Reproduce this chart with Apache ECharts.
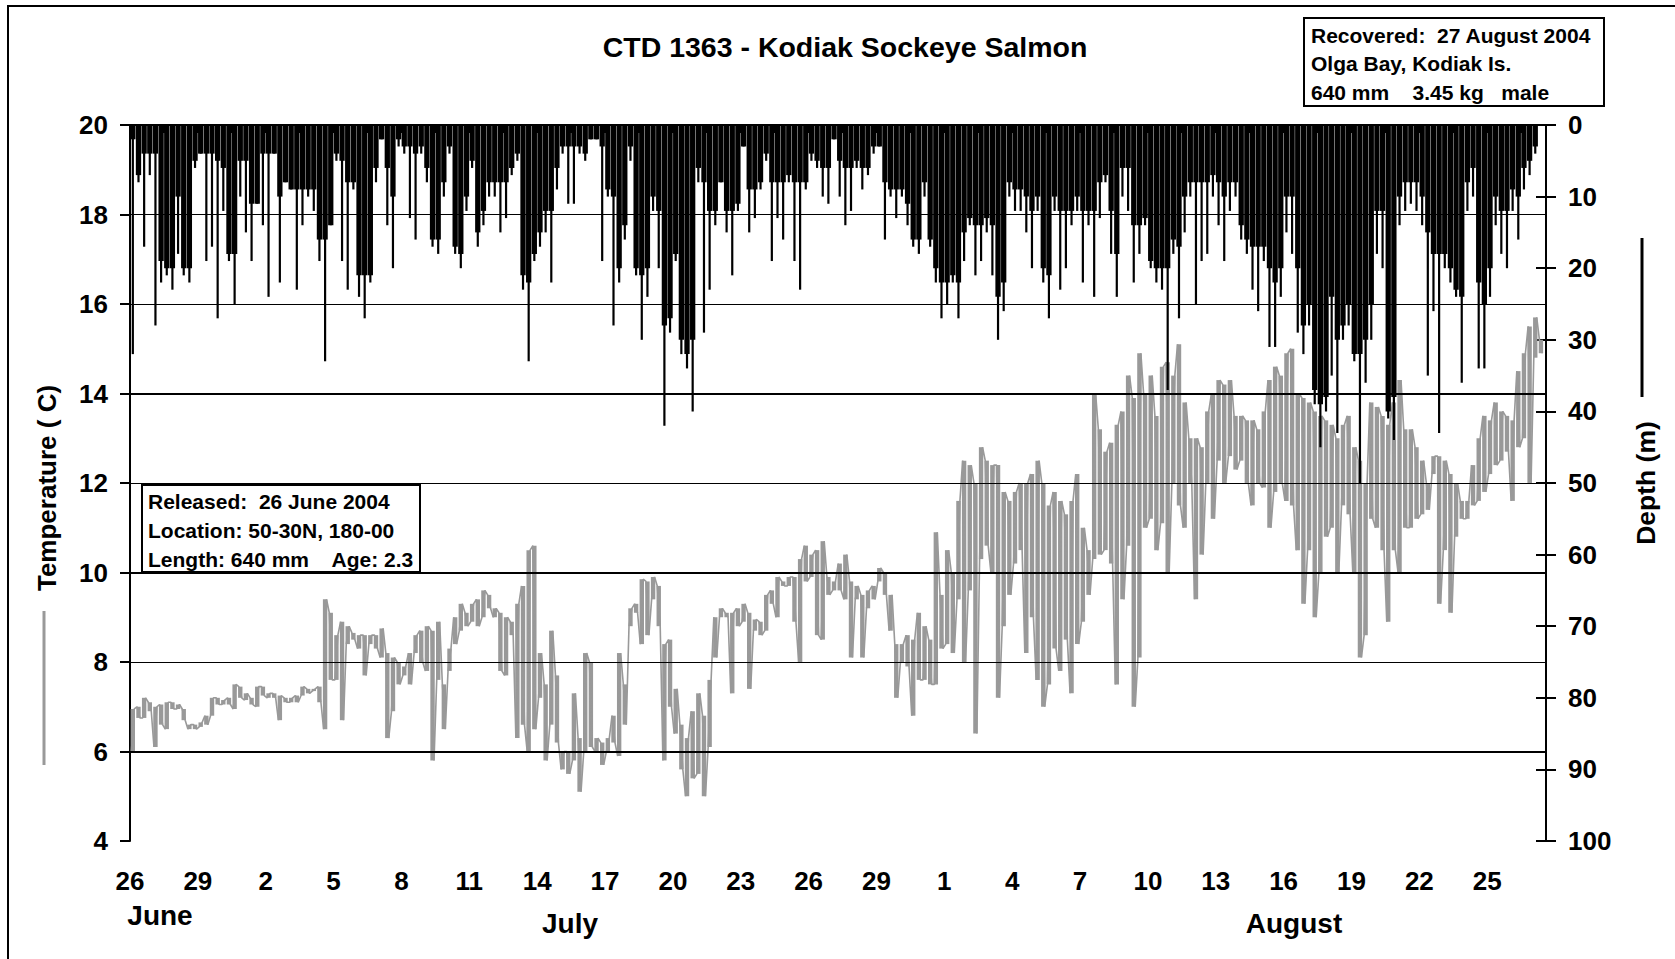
<!DOCTYPE html>
<html>
<head>
<meta charset="utf-8">
<title>CTD 1363 - Kodiak Sockeye Salmon</title>
<script src="https://cdn.jsdelivr.net/npm/echarts@6/dist/echarts.min.js"></script>
<style>
  html, body { margin: 0; padding: 0; background: #fff; }
  #chart { width: 1675px; height: 959px; }
</style>
</head>
<body>
<div id="chart"></div>
<script>
// one value per 6 hour slot, day 0 = 26 June 2004
var slotDays = 0.25;

var dayLabels = ['26', '29', '2', '5', '8', '11', '14', '17', '20', '23', '26', '29',
  '1', '4', '7', '10', '13', '16', '19', '22', '25'];

var tempGrid = [6, 8, 10, 12, 14, 16, 18, 20];

// deepest dive in each slot (m)
var depthMax = [
  32, 8, 17, 7, 28, 22, 21, 23, 18, 21, 22, 6, 4, 19, 17, 27, 12, 19, 25, 10,
  15, 19, 11, 14, 24, 4, 22, 8, 9, 23, 14, 10, 12, 19, 33, 14, 5, 19, 23, 9,
  24, 27, 22, 8, 2, 14, 20, 3, 4, 13, 16, 4, 8, 17, 18, 10, 4, 18, 20, 12,
  6, 17, 14, 10, 10, 15, 13, 7, 5, 23, 33, 19, 17, 15, 22, 9, 4, 11, 11, 4,
  5, 2, 2, 19, 10, 28, 22, 16, 5, 21, 30, 24, 12, 20, 42, 29, 19, 32, 34, 40,
  8, 29, 23, 14, 8, 15, 21, 12, 3, 15, 13, 9, 5, 19, 13, 16, 8, 19, 23, 9,
  5, 6, 10, 11, 2, 10, 14, 12, 6, 9, 7, 4, 3, 16, 10, 13, 10, 14, 17, 18,
  10, 17, 22, 27, 25, 22, 27, 19, 14, 21, 19, 15, 21, 30, 26, 10, 12, 12, 15, 20,
  12, 22, 27, 12, 23, 20, 14, 12, 22, 14, 24, 13, 8, 18, 24, 10, 12, 22, 18, 14,
  20, 22, 23, 37, 18, 27, 15, 10, 25, 19, 18, 10, 14, 19, 12, 10, 16, 18, 23, 26,
  19, 31, 31, 24, 15, 18, 29, 32, 28, 39, 45, 40, 35, 43, 30, 28, 33, 50, 36, 30,
  18, 20, 41, 44, 14, 12, 11, 12, 14, 35, 26, 43, 20, 22, 24, 36, 12, 10, 34, 34,
  24, 14, 18, 20, 12, 16, 9, 7, 4
];

// depth the fish kept to most of the slot (m), the solid part of the trace
var depthCore = [
  2, 7, 4, 4, 4, 19, 20, 20, 10, 20, 20, 5, 4, 4, 4, 5, 6, 18, 18, 5,
  5, 11, 11, 4, 4, 4, 10, 8, 9, 9, 9, 9, 9, 16, 16, 14, 4, 5, 8, 8,
  21, 21, 21, 6, 2, 6, 10, 2, 3, 3, 4, 3, 6, 16, 16, 8, 3, 17, 18, 10,
  5, 15, 12, 8, 8, 8, 8, 6, 4, 21, 22, 18, 15, 12, 12, 6, 3, 3, 3, 3,
  4, 2, 2, 3, 9, 10, 20, 14, 3, 20, 21, 20, 10, 12, 28, 27, 18, 30, 32, 30,
  6, 8, 12, 12, 8, 12, 12, 11, 3, 9, 9, 8, 4, 8, 8, 8, 7, 8, 8, 8,
  4, 5, 6, 6, 2, 5, 6, 6, 5, 6, 6, 3, 3, 8, 9, 9, 9, 11, 16, 16,
  8, 16, 20, 22, 22, 21, 22, 15, 13, 14, 14, 13, 14, 24, 22, 8, 9, 9, 10, 12,
  10, 20, 21, 10, 12, 12, 12, 10, 12, 12, 12, 8, 7, 12, 18, 6, 6, 14, 14, 13,
  19, 20, 20, 20, 16, 17, 10, 8, 8, 8, 8, 7, 8, 10, 8, 8, 14, 16, 17, 17,
  17, 20, 22, 20, 10, 10, 20, 28, 25, 37, 39, 38, 24, 30, 28, 25, 32, 32, 30, 25,
  12, 12, 40, 38, 10, 8, 8, 8, 10, 15, 18, 18, 18, 20, 23, 24, 8, 6, 22, 25,
  20, 10, 12, 12, 9, 10, 6, 5, 3
];

// coolest and warmest reading in each slot (C)
var tempLo = [
  6.0, 6.75, 6.75, 6.9, 6.1, 6.6, 6.5, 6.95, 6.95, 6.7, 6.5, 6.5, 6.55, 6.6, 6.8, 7.05, 7.05, 7.05, 6.95, 7.2,
  7.15, 7.05, 7.0, 7.25, 7.2, 7.2, 6.7, 7.1, 7.1, 7.1, 7.25, 7.3, 7.35, 7.1, 6.5, 7.6, 7.6, 6.7, 8.4, 8.5,
  8.3, 7.7, 8.4, 8.3, 8.1, 6.3, 6.9, 7.5, 7.7, 7.5, 8.2, 8.0, 7.8, 5.8, 7.6, 6.5, 7.8, 8.4, 8.7, 8.8,
  8.9, 8.8, 9.0, 9.2, 9.0, 7.8, 7.7, 8.6, 6.3, 6.6, 6.0, 6.5, 7.2, 5.8, 6.6, 6.2, 5.6, 5.5, 5.8, 5.1,
  6.0, 6.1, 6.0, 5.7, 6.0, 6.2, 5.9, 6.6, 8.8, 9.1, 8.4, 8.6, 9.4, 8.8, 5.8, 7.0, 6.4, 5.6, 5.0, 5.4,
  5.5, 5.0, 6.1, 8.1, 9.0, 9.0, 7.3, 8.8, 8.9, 7.4, 8.7, 8.6, 8.7, 9.3, 9.0, 9.7, 9.7, 8.9, 8.0, 9.8,
  9.9, 8.6, 8.5, 9.5, 9.6, 9.6, 9.4, 8.1, 9.4, 8.1, 9.2, 9.4, 9.8, 9.5, 8.7, 7.2, 8.0, 7.9, 6.8, 7.6,
  7.6, 7.5, 7.5, 8.3, 8.4, 8.2, 9.4, 8.0, 9.6, 6.4, 10.3, 10.6, 10.0, 7.2, 8.8, 9.5, 10.2, 10.5, 8.2, 9.0,
  7.6, 7.0, 7.5, 8.3, 7.8, 8.5, 7.3, 8.4, 8.9, 9.5, 10.3, 10.4, 10.5, 10.2, 7.5, 9.4, 10.6, 7.0, 8.1, 11.0,
  11.2, 10.5, 11.1, 10.0, 12.0, 11.5, 11.0, 12.0, 9.4, 10.4, 12.0, 11.2, 12.5, 12.0, 12.6, 12.3, 12.5, 12.0, 11.5, 12.0,
  11.9, 11.0, 11.8, 12.0, 11.6, 11.5, 10.5, 9.3, 10.5, 9.0, 10.0, 10.8, 11.0, 10.0, 11.5, 11.3, 10.0, 8.1, 8.6, 11.2,
  11.0, 10.5, 8.9, 10.5, 10.0, 11.0, 11.0, 11.2, 11.3, 11.4, 12.2, 9.3, 10.5, 9.1, 10.8, 11.2, 11.2, 11.5, 11.6, 11.8,
  12.2, 12.4, 12.5, 12.7, 11.6, 12.8, 13.0, 12.0, 14.8, 14.9
];
var tempHi = [
  6.95, 7.0, 7.2, 7.1, 7.0, 7.05, 7.1, 7.1, 7.05, 6.95, 6.6, 6.6, 6.65, 6.8, 7.2, 7.2, 7.15, 7.2, 7.5, 7.45,
  7.3, 7.2, 7.45, 7.45, 7.3, 7.3, 7.25, 7.2, 7.2, 7.25, 7.45, 7.4, 7.4, 7.45, 9.4, 9.1, 8.6, 8.9, 8.8, 8.65,
  8.6, 8.6, 8.6, 8.6, 8.75, 8.2, 8.1, 8.0, 7.9, 8.2, 8.6, 8.7, 8.8, 8.7, 8.9, 7.5, 8.3, 9.0, 9.3, 9.1,
  9.3, 9.4, 9.6, 9.5, 9.2, 9.1, 9.0, 8.9, 9.3, 9.7, 10.5, 10.6, 8.2, 7.5, 8.7, 7.7, 6.0, 6.0, 7.3, 6.3,
  8.2, 8.0, 6.3, 6.2, 6.3, 6.8, 8.2, 7.5, 9.2, 9.3, 9.85, 9.8, 9.9, 9.7, 8.4, 8.5, 7.4, 6.6, 6.3, 6.9,
  7.3, 6.8, 7.6, 9.0, 9.2, 9.1, 9.1, 9.2, 9.3, 9.1, 8.95, 8.9, 9.5, 9.6, 9.9, 9.8, 9.9, 9.9, 10.3, 10.6,
  10.4, 10.5, 10.7, 9.9, 9.8, 10.2, 10.4, 9.8, 9.7, 9.5, 9.6, 9.7, 10.1, 10.0, 9.5, 8.4, 8.4, 8.6, 8.5, 9.1,
  8.8, 8.5, 10.9, 9.5, 10.5, 10.0, 11.6, 12.5, 12.4, 12.0, 12.8, 12.5, 12.4, 12.4, 11.8, 11.6, 11.8, 12.0, 12.0, 12.2,
  12.5, 12.0, 11.5, 11.8, 11.6, 11.3, 11.6, 12.2, 11.0, 10.5, 14.0, 13.2, 12.7, 12.9, 13.3, 13.6, 14.4, 13.9, 14.9, 14.0,
  14.4, 13.5, 14.6, 14.7, 14.4, 15.1, 13.8, 13.0, 13.0, 12.8, 13.6, 14.0, 14.3, 14.2, 14.3, 13.5, 13.5, 13.4, 13.4, 13.2,
  13.6, 14.3, 14.6, 14.4, 14.9, 15.0, 14.0, 13.9, 13.8, 13.6, 13.5, 13.4, 13.3, 13.0, 13.3, 13.5, 12.8, 12.5, 12.0, 13.8,
  13.7, 13.5, 13.3, 13.8, 14.3, 13.2, 13.2, 12.8, 12.5, 12.0, 12.6, 12.6, 12.5, 12.2, 12.0, 11.6, 11.6, 12.4, 13.0, 13.5,
  13.4, 13.8, 13.6, 13.5, 13.4, 14.5, 14.9, 15.5, 15.7, 15.2
];

var FONT = '"Liberation Sans", Arial, sans-serif';

// temperature trace: zigzag through the low/high of each slot
var tempLine = [];
var tempRange = [];
for (var i = 0; i < tempLo.length; i++) {
  var x0 = i * slotDays;
  if (i % 2 === 0) {
    tempLine.push([x0 + 0.06, tempLo[i]], [x0 + 0.19, tempHi[i]]);
  } else {
    tempLine.push([x0 + 0.06, tempHi[i]], [x0 + 0.19, tempLo[i]]);
  }
  tempRange.push([x0 + slotDays / 2, tempLo[i], tempHi[i]]);
}
var depthCoreBars = depthCore.map(function (d, i) { return [i * slotDays + slotDays / 2, 0, d]; });
var depthSpikeBars = depthMax.map(function (d, i) { return [i * slotDays + slotDays / 2, 0, d]; });

// vertical rectangle between two values, drawn through the axes
function rectItem(width, color) {
  return function (params, api) {
    var p0 = api.coord([api.value(0), api.value(1)]);
    var p1 = api.coord([api.value(0), api.value(2)]);
    var top = Math.min(p0[1], p1[1]);
    var h = Math.max(Math.abs(p1[1] - p0[1]), 1.5);
    return {
      type: 'rect',
      shape: {x: p0[0] - width / 2, y: top, width: width, height: h},
      style: {fill: color}
    };
  };
}

var chart = echarts.init(document.getElementById('chart'), null, {renderer: 'svg'});

var labelStyle = {color: '#000', fontSize: 26, fontWeight: 'bold', fontFamily: FONT};

function plainText(x, y, txt, size, rot) {
  return {
    type: 'text', x: x, y: y, z: 20, rotation: rot || 0,
    style: {text: txt, fill: '#000', fontSize: size, fontWeight: 'bold', fontFamily: FONT,
      align: 'center', verticalAlign: 'middle', textAlign: 'center', textVerticalAlign: 'middle'}
  };
}
function boxText(x, y, txt) {
  return {
    type: 'text', x: x, y: y, z: 20,
    style: {text: txt, fill: '#000', fontSize: 21, fontWeight: 'bold', fontFamily: FONT,
      align: 'left', verticalAlign: 'middle', textAlign: 'left', textVerticalAlign: 'middle'}
  };
}

chart.setOption({
  animation: false,
  backgroundColor: '#fff',
  grid: {left: 130, right: 129, top: 125, bottom: 118},
  xAxis: {
    type: 'value', min: 0, max: 62.6, interval: 1.5,
    axisLine: {lineStyle: {color: '#000', width: 2}},
    axisTick: {length: 8, lineStyle: {color: '#000', width: 2}},
    splitLine: {show: false},
    axisLabel: Object.assign({margin: 27, formatter: function (v) {
      var k = Math.round(v / 3);
      if (Math.abs(v - k * 3) > 1e-6 || k >= dayLabels.length) return '';
      return dayLabels[k];
    }}, labelStyle)
  },
  yAxis: [
    {
      type: 'value', min: 4, max: 20, interval: 2, position: 'left',
      axisLine: {show: true, lineStyle: {color: '#000', width: 2}},
      axisTick: {show: true, length: 10, lineStyle: {color: '#000', width: 2}},
      splitLine: {show: false},
      axisLabel: Object.assign({margin: 22}, labelStyle)
    },
    {
      type: 'value', min: 0, max: 100, interval: 10, position: 'right', inverse: true,
      axisLine: {show: true, lineStyle: {color: '#000', width: 2}},
      axisTick: {show: true, length: 10, lineStyle: {color: '#000', width: 2}},
      splitLine: {show: false},
      axisLabel: Object.assign({margin: 22}, labelStyle)
    },
    {
      type: 'value', min: 0, max: 100, interval: 10, position: 'right', inverse: true,
      axisLine: {show: false},
      axisTick: {show: true, inside: true, length: 10, lineStyle: {color: '#000', width: 2}},
      splitLine: {show: false},
      axisLabel: {show: false}
    }
  ],
  series: [
    {
      name: 'grid', type: 'line', data: [], z: 1, silent: true,
      markLine: {
        silent: true, symbol: 'none', label: {show: false},
        data: tempGrid.map(function (t) {
          return {yAxis: t, lineStyle: {color: '#000', type: 'solid',
            width: (t === 6 || t === 10 || t === 14) ? 2 : 1}};
        })
      }
    },
    {
      name: 'Temperature range', type: 'custom', data: tempRange, yAxisIndex: 0, z: 2,
      encode: {x: 0, y: [1, 2]}, renderItem: rectItem(4.4, '#999999'), silent: true
    },
    {
      name: 'Temperature', type: 'line', data: tempLine, yAxisIndex: 0, z: 2,
      showSymbol: false, symbol: 'none',
      lineStyle: {color: '#999999', width: 1.6}
    },
    {
      name: 'Depth', type: 'custom', data: depthCoreBars, yAxisIndex: 1, z: 3,
      encode: {x: 0, y: [1, 2]}, renderItem: rectItem(5.3, '#000'), silent: true
    },
    {
      name: 'Depth spikes', type: 'custom', data: depthSpikeBars, yAxisIndex: 1, z: 3,
      encode: {x: 0, y: [1, 2]}, renderItem: rectItem(2.2, '#000'), silent: true
    }
  ],
  graphic: [
    {type: 'rect', z: 0, silent: true, shape: {x: 8, y: 6, width: 1700, height: 1000},
      style: {fill: 'none', stroke: '#000', lineWidth: 2}},
    plainText(845, 47, 'CTD 1363 - Kodiak Sockeye Salmon', 28.5),
    {type: 'rect', z: 19, shape: {x: 1304, y: 18, width: 300, height: 88},
      style: {fill: '#fff', stroke: '#000', lineWidth: 2}},
    boxText(1311, 35, 'Recovered:  27 August 2004'),
    boxText(1311, 63, 'Olga Bay, Kodiak Is.'),
    boxText(1311, 92, '640 mm    3.45 kg   male'),
    {type: 'rect', z: 19, shape: {x: 142, y: 485, width: 278, height: 87},
      style: {fill: '#fff', stroke: '#000', lineWidth: 2}},
    boxText(148, 501, 'Released:  26 June 2004'),
    boxText(148, 530, 'Location: 50-30N, 180-00'),
    boxText(148, 559, 'Length: 640 mm    Age: 2.3'),
    plainText(47, 488, 'Temperature ( C)', 26, Math.PI / 2),
    {type: 'line', z: 20, shape: {x1: 44, y1: 611, x2: 44, y2: 765},
      style: {stroke: '#999999', lineWidth: 3}},
    plainText(1646, 483, 'Depth (m)', 26.5, Math.PI / 2),
    {type: 'line', z: 20, shape: {x1: 1642, y1: 238, x2: 1642, y2: 397},
      style: {stroke: '#000', lineWidth: 3}},
    plainText(160, 915, 'June', 28),
    plainText(570, 923, 'July', 28),
    plainText(1294, 923, 'August', 28)
  ]
});
</script>
</body>
</html>
